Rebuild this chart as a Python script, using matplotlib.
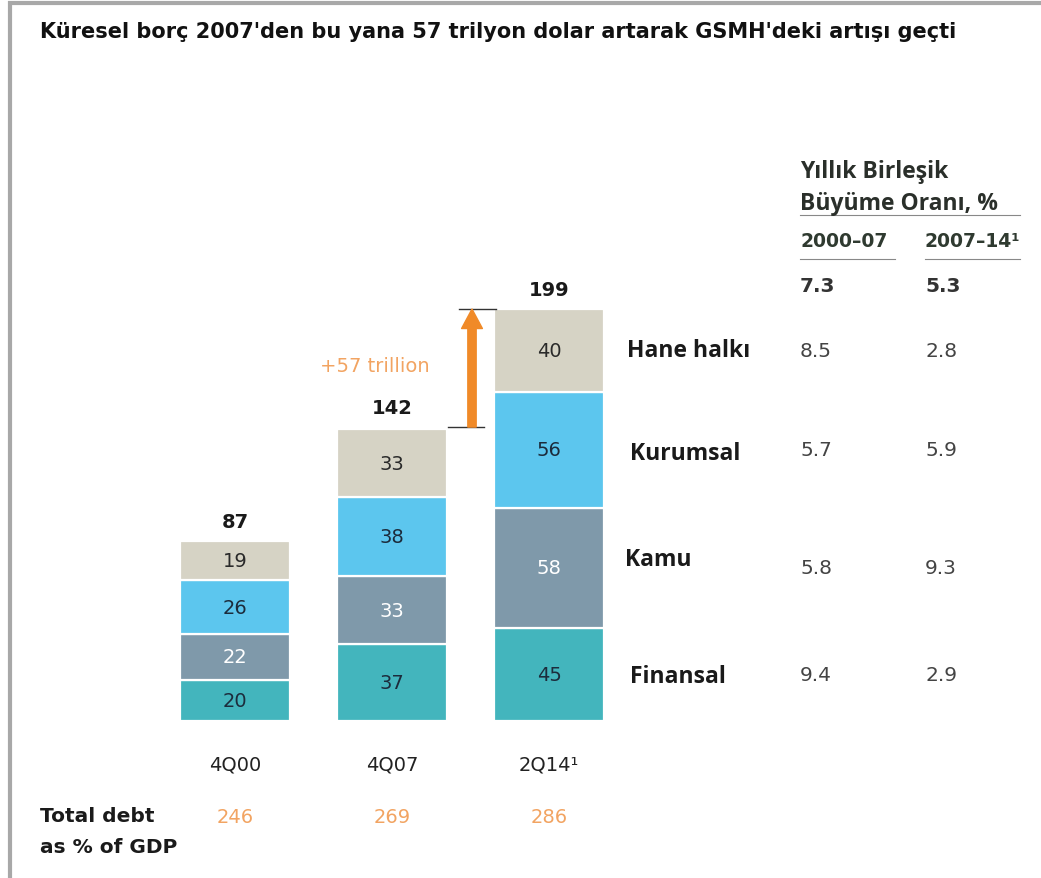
import numpy as np
import matplotlib
matplotlib.use('Agg')
import matplotlib.pyplot as plt

# data (trillion USD)
periods = ['4Q00', '4Q07', '2Q14¹']
sectors = ['Finansal', 'Kamu', 'Kurumsal', 'Hane halkı']
finansal = [20, 37, 45]
kamu = [22, 33, 58]
kurumsal = [26, 38, 56]
hane = [19, 33, 40]
totals = [87, 142, 199]
debt_gdp = [246, 269, 286]
cagr_0007 = [9.4, 5.8, 5.7, 8.5]   # same order as sectors
cagr_0714 = [2.9, 9.3, 5.9, 2.8]
cagr_total = [7.3, 5.3]

colors = ['#43b5bd', '#7f99aa', '#5cc6ee', '#d6d3c5']
label_colors = ['#1c2c3c', 'white', '#1c2c3c', '#2a2a2a']
orange = '#f08a28'
light_orange = '#f2a462'

W, H = 1041, 879
fig = plt.figure(figsize=(W / 100, H / 100), dpi=100)

# bar axes: baseline at y=722px, 2.07 px per trillion, bar spacing 157px
base_px, ppu, x0_px, step_px = 722, 2.07, 235, 157
ax = fig.add_axes([0, (H - base_px) / H, 1, 622 / H])
ax.set_xlim(-x0_px / step_px, (W - x0_px) / step_px)
ax.set_ylim(0, 622 / ppu)
ax.axis('off')


def px2x(px):
    return (px - x0_px) / step_px


x = np.arange(len(periods))
series = [finansal, kamu, kurumsal, hane]
bottom = np.zeros(len(periods))
for vals, c, tc in zip(series, colors, label_colors):
    vals = np.array(vals)
    ax.bar(x, vals, width=0.70, bottom=bottom, color=c, edgecolor='white', linewidth=1.6)
    for xi, b, v in zip(x, bottom, vals):
        ax.text(xi, b + v / 2, str(v), ha='center', va='center', fontsize=14, color=tc)
    bottom += vals

for xi, t in zip(x, totals):
    ax.text(xi, t + 9.5, str(t), ha='center', va='center', fontsize=14,
            fontweight='bold', color='#1a1a1a')

for xi, p, d in zip(x, periods, debt_gdp):
    ax.text(xi, (base_px - 765) / ppu, p, ha='center', va='center', fontsize=14, color='#222222')
    ax.text(xi, (base_px - 818) / ppu, str(d), ha='center', va='center', fontsize=14,
            color=light_orange)

# +57 trillion arrow between 4Q07 and 2Q14 totals
ax_x = px2x(472)
ax.annotate('', xy=(ax_x, totals[2]), xytext=(ax_x, totals[1]),
            arrowprops=dict(width=6, headwidth=15, headlength=14, color=orange, shrink=0))
ax.plot([px2x(459), px2x(496)], [totals[2], totals[2]], color='#333333', lw=1)
ax.plot([px2x(448), px2x(484)], [totals[1], totals[1]], color='#333333', lw=1)
ax.text(px2x(375), (base_px - 367) / ppu, '+%d trillion' % (totals[2] - totals[1]),
        ha='center', va='center', fontsize=14, color=light_orange)

# sector labels and CAGR values at the centres of the 2Q14 segments
last = np.array([s[-1] for s in series])
centres = np.cumsum(last) - last / 2
label_dy = [-1, 4.5, -1.5, 0]
label_px = [630, 625, 630, 627]
for name, cy, dy, lx, a, b in zip(sectors, centres, label_dy, label_px, cagr_0007, cagr_0714):
    ax.text(px2x(lx), cy + dy, name, ha='left', va='center', fontsize=16.5,
            fontweight='bold', family='Open Sans', color='#1a1a1a')
    ax.text(px2x(800), cy, '%.1f' % a, ha='left', va='center', fontsize=14.5, color='#444444')
    ax.text(px2x(925), cy, '%.1f' % b, ha='left', va='center', fontsize=14.5, color='#444444')

# overlay in pixel coordinates for title, header and frame
ov = fig.add_axes([0, 0, 1, 1])
ov.set_xlim(0, W)
ov.set_ylim(H, 0)
ov.axis('off')

ov.plot([8, W], [3.5, 3.5], color='#a8a8a8', lw=3, solid_capstyle='butt')
ov.plot([10, 10], [2, H], color='#a8a8a8', lw=3, solid_capstyle='butt')

ov.text(40, 32, "Küresel borç 2007'den bu yana 57 trilyon dolar artarak GSMH'deki artışı geçti",
        ha='left', va='center', fontsize=15, fontweight='bold', color='#111111')

ov.text(800, 172, 'Yıllık Birleşik', ha='left', va='center', fontsize=16.5,
        fontweight='bold', family='Open Sans', color='#2a2f2a')
ov.text(800, 204, 'Büyüme Oranı, %', ha='left', va='center', fontsize=16.5,
        fontweight='bold', family='Open Sans', color='#2a2f2a')
ov.plot([800, 1020], [216, 216], color='#888888', lw=0.8)
ov.text(800, 242, '2000–07', ha='left', va='center', fontsize=13.5, fontweight='bold', color='#2f3a30')
ov.text(925, 242, '2007–14¹', ha='left', va='center', fontsize=13.5, fontweight='bold', color='#2f3a30')
ov.plot([800, 895], [260, 260], color='#888888', lw=0.8)
ov.plot([925, 1020], [260, 260], color='#888888', lw=0.8)
ov.text(800, 287, '%.1f' % cagr_total[0], ha='left', va='center', fontsize=14.5,
        fontweight='bold', color='#333333')
ov.text(925, 287, '%.1f' % cagr_total[1], ha='left', va='center', fontsize=14.5,
        fontweight='bold', color='#333333')

ov.text(40, 817, 'Total debt', ha='left', va='center', fontsize=14.5, fontweight='bold', color='#1a1a1a')
ov.text(40, 848, 'as % of GDP', ha='left', va='center', fontsize=14.5, fontweight='bold', color='#1a1a1a')

fig.savefig('out.png', dpi=100)
